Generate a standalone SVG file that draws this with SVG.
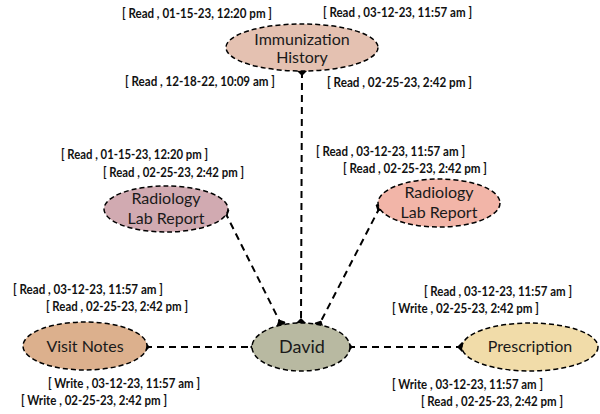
<svg xmlns="http://www.w3.org/2000/svg" width="600" height="414" viewBox="0 0 600 414">
  <style>
    .node { stroke: #000; stroke-width: 1.5; stroke-dasharray: 5 3; }
    .name { font-family: Lato, "Liberation Sans", Arial, sans-serif; font-size: 16px; fill: #1a1a1a; text-anchor: middle; }
    .tag { font-family: Lato, "Liberation Sans", Arial, sans-serif; font-size: 12.5px; font-weight: bold; fill: #111; }
    .edge { stroke: #000; stroke-width: 2; stroke-dasharray: 7 5; fill: none; marker-start: url(#dia); marker-end: url(#dia); }
  </style>
  <defs>
    <!-- diamond end cap shared by every connector -->
    <marker id="dia" viewBox="0 0 10 10" refX="5" refY="5" markerWidth="10" markerHeight="10" markerUnits="userSpaceOnUse" orient="auto">
      <path d="M0,5 L5,0 L10,5 L5,10 Z" fill="#000"/>
    </marker>
  </defs>
  <rect width="600" height="414" fill="#fff"/>

  <g id="connectors">
    <line class="edge" x1="302" y1="71" x2="301" y2="323"/>
    <line class="edge" x1="225" y1="212" x2="281" y2="324"/>
    <line class="edge" x1="380" y1="207" x2="319" y2="325"/>
    <line class="edge" x1="145" y1="347" x2="255" y2="347"/>
    <line class="edge" x1="348" y1="347" x2="462" y2="347"/>
  </g>

  <g id="immunization-history">
    <ellipse class="node" cx="302" cy="47.5" rx="76" ry="23.5" fill="#e4c1b1"/>
    <text class="name" x="302" y="45">Immunization</text>
    <text class="name" x="302" y="63">History</text>
  </g>
  <g id="radiology-left">
    <ellipse class="node" cx="166" cy="209" rx="62" ry="23" fill="#d1aab1"/>
    <text class="name" x="166" y="204">Radiology</text>
    <text class="name" x="166" y="224">Lab Report</text>
  </g>
  <g id="radiology-right">
    <ellipse class="node" cx="439" cy="203" rx="61" ry="24" fill="#f2b5a8"/>
    <text class="name" x="439" y="198">Radiology</text>
    <text class="name" x="439" y="218">Lab Report</text>
  </g>
  <g id="visit-notes">
    <ellipse class="node" cx="85" cy="346" rx="62" ry="24" fill="#dcb08d"/>
    <text class="name" x="85" y="352">Visit Notes</text>
  </g>
  <g id="david">
    <ellipse class="node" cx="301" cy="347" rx="49" ry="24" fill="#b8b9a1"/>
    <text class="name" x="302" y="353" style="font-size:18px">David</text>
  </g>
  <g id="prescription">
    <ellipse class="node" cx="530" cy="347" rx="68" ry="24" fill="#f1dca9"/>
    <text class="name" x="530" y="352">Prescription</text>
  </g>

  <g id="access-labels">
    <text class="tag" x="122" y="18" textLength="150" lengthAdjust="spacingAndGlyphs">[ Read , 01-15-23, 12:20 pm ]</text>
    <text class="tag" x="323" y="17" textLength="149" lengthAdjust="spacingAndGlyphs">[ Read , 03-12-23, 11:57 am ]</text>
    <text class="tag" x="125" y="86" textLength="150" lengthAdjust="spacingAndGlyphs">[ Read , 12-18-22, 10:09 am ]</text>
    <text class="tag" x="327" y="87" textLength="145" lengthAdjust="spacingAndGlyphs">[ Read , 02-25-23, 2:42 pm ]</text>

    <text class="tag" x="61" y="159" textLength="147" lengthAdjust="spacingAndGlyphs">[ Read , 01-15-23, 12:20 pm ]</text>
    <text class="tag" x="103" y="177" textLength="141" lengthAdjust="spacingAndGlyphs">[ Read , 02-25-23, 2:42 pm ]</text>

    <text class="tag" x="316" y="156" textLength="149" lengthAdjust="spacingAndGlyphs">[ Read , 03-12-23, 11:57 am ]</text>
    <text class="tag" x="343" y="173" textLength="144" lengthAdjust="spacingAndGlyphs">[ Read , 02-25-23, 2:42 pm ]</text>

    <text class="tag" x="13" y="294" textLength="150" lengthAdjust="spacingAndGlyphs">[ Read , 03-12-23, 11:57 am ]</text>
    <text class="tag" x="46" y="311" textLength="142" lengthAdjust="spacingAndGlyphs">[ Read , 02-25-23, 2:42 pm ]</text>
    <text class="tag" x="48" y="388" textLength="152" lengthAdjust="spacingAndGlyphs">[ Write , 03-12-23, 11:57 am ]</text>
    <text class="tag" x="21" y="405" textLength="146" lengthAdjust="spacingAndGlyphs">[ Write , 02-25-23, 2:42 pm ]</text>

    <text class="tag" x="424" y="296" textLength="148" lengthAdjust="spacingAndGlyphs">[ Read , 03-12-23, 11:57 am ]</text>
    <text class="tag" x="392" y="313" textLength="147" lengthAdjust="spacingAndGlyphs">[ Write , 02-25-23, 2:42 pm ]</text>
    <text class="tag" x="392" y="389" textLength="151" lengthAdjust="spacingAndGlyphs">[ Write , 03-12-23, 11:57 am ]</text>
    <text class="tag" x="421" y="406" textLength="142" lengthAdjust="spacingAndGlyphs">[ Read , 02-25-23, 2:42 pm ]</text>
  </g>
</svg>
